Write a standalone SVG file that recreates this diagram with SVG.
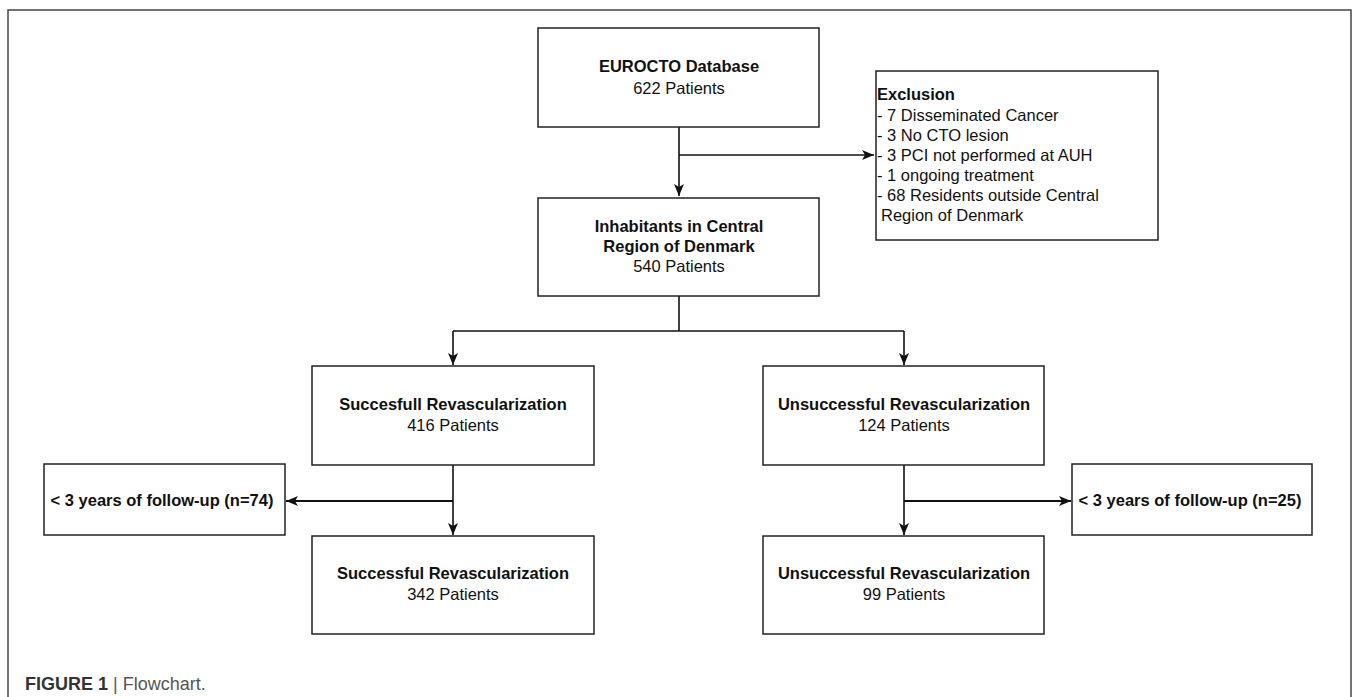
<svg xmlns="http://www.w3.org/2000/svg" width="1357" height="697" viewBox="0 0 1357 697">
<style>
.box{fill:#fff;stroke:#222;stroke-width:1.5}
.t{font-family:"Liberation Sans",Arial,sans-serif;font-size:16.5px;fill:#111;text-anchor:middle}
.b{font-weight:bold}
.l{text-anchor:start}
.edge{fill:none;stroke:#111;stroke-width:1.6}
.thick{stroke-width:2.2}
</style>
<defs>
<marker id="ah" markerUnits="userSpaceOnUse" markerWidth="14" markerHeight="14" viewBox="0 0 14 14" refX="13" refY="7" orient="auto">
<path d="M1,2 L13,7 L1,12 L4,7 Z" fill="#111"/>
</marker>
</defs>
<rect x="8" y="10" width="1343" height="700" fill="none" stroke="#444" stroke-width="1.5"/>
<g id="connectors">
<path class="edge" d="M679,127 V196" marker-end="url(#ah)"/>
<path class="edge" d="M679,155 H874" marker-end="url(#ah)"/>
<path class="edge" d="M679,296 V331"/>
<path class="edge" d="M453,331 H904"/>
<path class="edge" d="M453,331 V365" marker-end="url(#ah)"/>
<path class="edge" d="M904,331 V365" marker-end="url(#ah)"/>
<path class="edge" d="M453,465 V535" marker-end="url(#ah)"/>
<path class="edge thick" d="M453,501 H286" marker-end="url(#ah)"/>
<path class="edge" d="M904,465 V535" marker-end="url(#ah)"/>
<path class="edge thick" d="M904,501 H1071" marker-end="url(#ah)"/>
</g>
<g id="n-eurocto">
<rect class="box" x="538" y="28" width="281" height="99"/>
<text class="t b" x="679" y="72">EUROCTO Database</text>
<text class="t" x="679" y="94">622 Patients</text>
</g>
<g id="n-exclusion">
<rect class="box" x="876" y="71" width="282" height="169"/>
<text class="t l b" x="877" y="100">Exclusion</text>
<text class="t l" x="877" y="121">- 7 Disseminated Cancer</text>
<text class="t l" x="877" y="141">- 3 No CTO lesion</text>
<text class="t l" x="877" y="161">- 3 PCI not performed at AUH</text>
<text class="t l" x="877" y="181">- 1 ongoing treatment</text>
<text class="t l" x="877" y="201">- 68 Residents outside Central</text>
<text class="t l" x="881" y="221">Region of Denmark</text>
</g>
<g id="n-inhabitants">
<rect class="box" x="538" y="198" width="281" height="98"/>
<text class="t b" x="679" y="232">Inhabitants in Central</text>
<text class="t b" x="679" y="252">Region of Denmark</text>
<text class="t" x="679" y="272">540 Patients</text>
</g>
<g id="n-succ1">
<rect class="box" x="312" y="366" width="282" height="99"/>
<text class="t b" x="453" y="410">Succesfull Revascularization</text>
<text class="t" x="453" y="431">416 Patients</text>
</g>
<g id="n-unsucc1">
<rect class="box" x="763" y="366" width="281" height="99"/>
<text class="t b" x="904" y="410">Unsuccessful Revascularization</text>
<text class="t" x="904" y="431">124 Patients</text>
</g>
<g id="n-fu-left">
<rect class="box" x="44" y="464" width="241" height="71"/>
<text class="t b" x="162" y="506">&lt; 3 years of follow-up (n=74)</text>
</g>
<g id="n-fu-right">
<rect class="box" x="1072" y="464" width="240" height="71"/>
<text class="t b" x="1190" y="506">&lt; 3 years of follow-up (n=25)</text>
</g>
<g id="n-succ2">
<rect class="box" x="312" y="536" width="282" height="98"/>
<text class="t b" x="453" y="579">Successful Revascularization</text>
<text class="t" x="453" y="600">342 Patients</text>
</g>
<g id="n-unsucc2">
<rect class="box" x="763" y="536" width="281" height="98"/>
<text class="t b" x="904" y="579">Unsuccessful Revascularization</text>
<text class="t" x="904" y="600">99 Patients</text>
</g>
<text x="25" y="690" font-family="'Liberation Sans',Arial,sans-serif" font-size="18px" fill="#333"><tspan font-weight="bold">FIGURE 1</tspan><tspan fill="#555"> | Flowchart.</tspan></text>
</svg>
